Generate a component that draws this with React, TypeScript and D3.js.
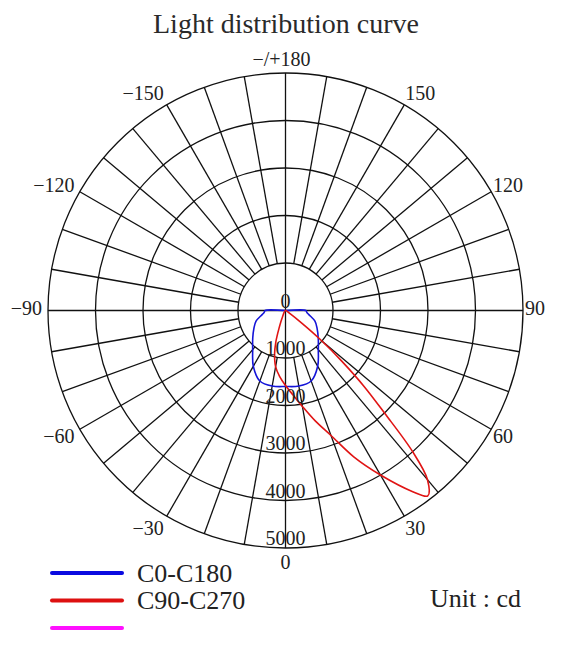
import React from "react";
import * as d3 from "d3";

const title = "Light distribution curve";
const radialTicks = [0, 1000, 2000, 3000, 4000, 5000];
const gridRings = [1000, 2000, 3000, 4000, 5000];
const angleLabels = [0, 30, 60, 90, 120, 150, 180, -150, -120, -90, -60, -30];
const angleLabelText = ["0", "30", "60", "90", "120", "150", "\u2212/+180", "\u2212150", "\u2212120", "\u221290", "\u221260", "\u221230"];

const blueAngles = [-90, -85, -80, -70, -60, -50, -40, -30, -20, -10, 0, 10, 20, 30, 40, 50, 60, 70, 80, 85, 90];
const blueValues = [430, 450, 500, 660, 770, 900, 1075, 1355, 1580, 1615, 1600, 1615, 1580, 1355, 1075, 900, 770, 660, 500, 450, 430];

const redAngles = [-25, -20, -17, -14, -10, -5, 0, 5, 10, 15, 20, 25, 30, 35, 37.5, 40, 42, 44, 46, 48, 50, 52, 55];
const redValues = [150, 400, 700, 950, 1200, 1400, 1580, 1780, 2050, 2400, 2800, 3400, 4000, 4650, 4920, 4650, 4000, 3000, 2300, 1600, 1000, 450, 100];

const legendLabels = ["C0-C180", "C90-C270", ""];
const legendColors = ["#0a0ae0", "#dd1010", "#ff10ff"];
const unitText = "Unit : cd";

const W = 565;
const H = 649;
const cx = 285.5;
const cy = 310.5;
const R = 237.5;
const FONT = "'Liberation Serif', 'Times New Roman', serif";

export default function App() {
  const r = d3.scaleLinear().domain([0, 5000]).range([0, R]);
  const rad = (deg: number) => (deg * Math.PI) / 180;
  const px = (deg: number, v: number) => cx + r(v) * Math.sin(rad(deg));
  const py = (deg: number, v: number) => cy + r(v) * Math.cos(rad(deg));

  const radial = d3
    .lineRadial<[number, number]>()
    .angle((d) => Math.PI - rad(d[0]))
    .radius((d) => r(d[1]))
    .curve(d3.curveCatmullRomClosed.alpha(0.5));

  const bluePts: [number, number][] = blueAngles.map((a, i) => [a, blueValues[i]]);
  bluePts.push([180, 0]);
  const redPts: [number, number][] = redAngles.map((a, i) => [a, redValues[i]]);
  redPts.push([180, 0]);

  const spokes = d3.range(-170, 190, 10);

  return (
    <svg
      width={W}
      height={H}
      style={{ position: "absolute", left: 0, top: 0, background: "#fff" }}
      fontFamily={FONT}
    >
      <rect x={0} y={0} width={W} height={H} fill="#fff" />
      <text x={286} y={33} fontSize={28} textAnchor="middle" fill="#2a2a2a">
        {title}
      </text>

      {/* grid */}
      <g stroke="#111" strokeWidth={1.3} fill="none">
        {gridRings.map((v) => (
          <circle key={v} cx={cx} cy={cy} r={r(v)} />
        ))}
        {spokes.map((a) => {
          const start = a % 90 === 0 ? 0 : 1000;
          return (
            <line
              key={a}
              x1={px(a, start)}
              y1={py(a, start)}
              x2={px(a, 5000)}
              y2={py(a, 5000)}
            />
          );
        })}
      </g>

      {/* curves */}
      <g transform={`translate(${cx},${cy})`} fill="none" strokeWidth={1.6}>
        <path d={radial(bluePts) || ""} stroke="#1414d8" />
        <path d={radial(redPts) || ""} stroke="#e01414" />
      </g>

      {/* radial labels */}
      <g fontSize={20} textAnchor="middle" fill="#222">
        {radialTicks.map((v) => (
          <text key={v} x={cx} y={cy + r(v) - 3}>
            {v}
          </text>
        ))}
      </g>

      {/* angle labels */}
      <g fontSize={20} fill="#222">
        {angleLabels.map((a, i) => {
          const s = Math.sin(rad(a));
          const c = Math.cos(rad(a));
          const anchor = Math.abs(s) < 0.01 ? "middle" : s > 0 ? "start" : "end";
          const x =
            s > 0.01 ? cx + (R + 2) * s : s < -0.01 ? cx + (R + 6) * s : cx - (a === 180 ? 4 : 0);
          const y = cy + (R + 14) * c + 7 - (Math.abs(c) < 0.01 ? 3 : 0);
          return (
            <text key={a} x={x} y={y} textAnchor={anchor}>
              {angleLabelText[i]}
            </text>
          );
        })}
      </g>

      {/* legend */}
      {legendColors.map((col, i) => (
        <g key={i}>
          <line x1={52} x2={122} y1={573 + i * 27.5} y2={573 + i * 27.5} stroke={col} strokeWidth={4} strokeLinecap="round" />
          {legendLabels[i] && (
            <text x={137} y={582 + i * 27} fontSize={26} fill="#222">
              {legendLabels[i]}
            </text>
          )}
        </g>
      ))}

      <text x={430} y={607} fontSize={26} fill="#222">
        {unitText}
      </text>
    </svg>
  );
}
